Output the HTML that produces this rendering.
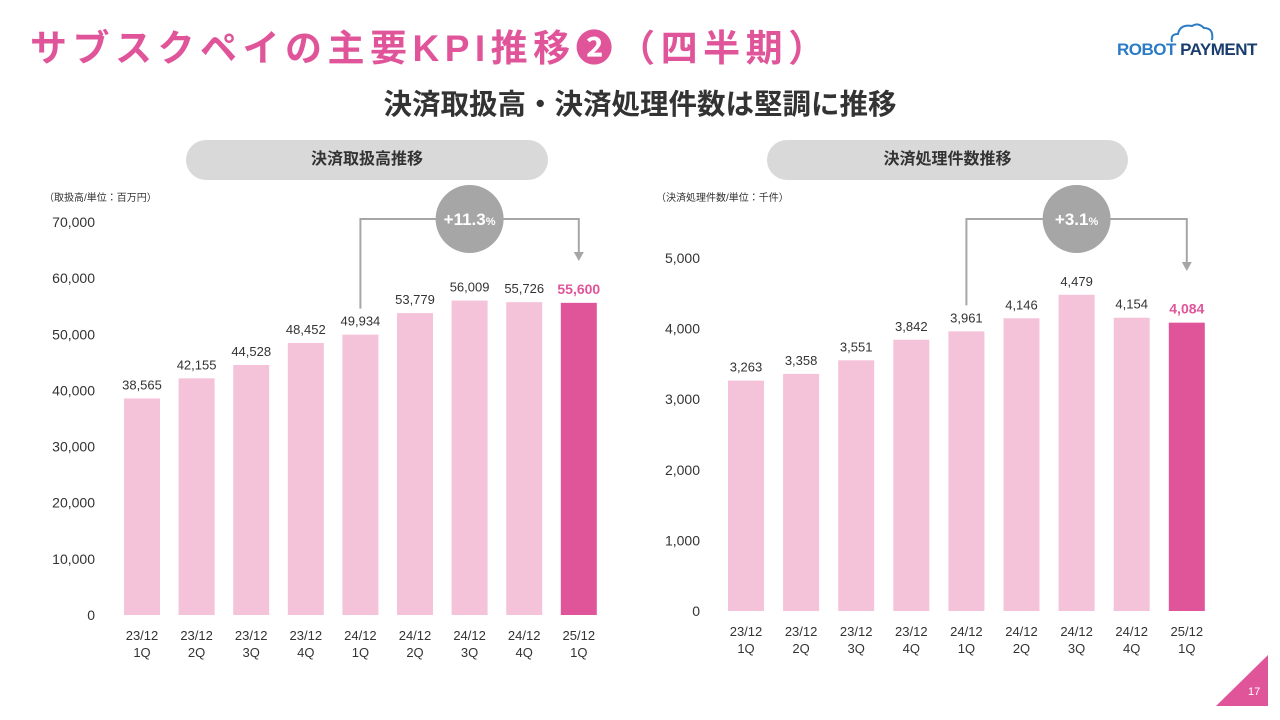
<!DOCTYPE html>
<html><head><meta charset="utf-8"><style>
body{margin:0;width:1280px;height:720px;background:#fff;overflow:hidden;font-family:"Liberation Sans","Noto Sans CJK JP",sans-serif;position:relative}
.t{position:absolute;white-space:nowrap}
</style></head><body>
<div class="t" style="left:30px;top:18px;font-size:37px;font-weight:bold;color:#e0559a;letter-spacing:5.5px">サブスクペイの主要KPI推移❷（四半期）</div>
<div class="t" style="left:1117px;top:40px;font-size:17px;font-weight:bold;color:#1a3d6e;letter-spacing:-0.5px"><span style="color:#2b7cc4">ROBOT</span> PAYMENT</div>
<svg class="t" style="left:1168px;top:22px" width="50" height="22"><path d="M4 20 Q2 12 10 12 Q12 2 24 4 Q30 0 36 6 Q46 6 44 18" fill="none" stroke="#2b7cc4" stroke-width="2"/></svg>
<div class="t" style="left:0;width:1280px;text-align:center;top:82px;font-size:28.5px;font-weight:bold;color:#333">決済取扱高・決済処理件数は堅調に推移</div>
<div class="t" style="left:186px;top:140px;width:362px;height:40px;border-radius:20px;background:#d9d9d9;text-align:center;line-height:40px;font-size:16px;font-weight:bold;color:#333">決済取扱高推移</div>
<div class="t" style="left:767px;top:140px;width:361px;height:40px;border-radius:20px;background:#d9d9d9;text-align:center;line-height:40px;font-size:16px;font-weight:bold;color:#333">決済処理件数推移</div>
<svg id="c" width="1280" height="720" style="position:absolute;left:0;top:0"></svg>
<div class="t" style="left:1248px;top:686px;font-size:11px;color:#fff">17</div>
<script>
const cats=["23/12|1Q","23/12|2Q","23/12|3Q","23/12|4Q","24/12|1Q","24/12|2Q","24/12|3Q","24/12|4Q","25/12|1Q"];
const volume=[38565,42155,44528,48452,49934,53779,56009,55726,55600];
const count=[3263,3358,3551,3842,3961,4146,4479,4154,4084];
const volTicks=[0,10000,20000,30000,40000,50000,60000,70000];
const cntTicks=[0,1000,2000,3000,4000,5000];
const growthVol="+11.3", growthCnt="+3.1";
const S=document.getElementById('c');const NS='http://www.w3.org/2000/svg';
function mk(t,a,txt){const e=document.createElementNS(NS,t);for(const k in a)e.setAttribute(k,a[k]);if(txt!==undefined)e.textContent=txt;S.appendChild(e);return e;}
function chart(o){
 const y=v=>o.y0-(v-0)/o.max*(o.y0-o.yTop);
 const x=i=>o.x0+i*o.step;
 mk('text',{x:o.unitX,y:201,'font-size':10,fill:'#333'},o.unit);
 o.ticks.forEach(t=>{const e=mk('text',{x:o.tickX,y:y(t)+5,'font-size':14,fill:'#333','text-anchor':'end'},t.toLocaleString('en-US'));
  });
 o.vals.forEach((v,i)=>{const last=i===o.vals.length-1;
  const r=mk('rect',{x:x(i)-18,y:y(v),width:36,height:o.y0-y(v),fill:last?'#e0559a':'#f4c3d9'});
  
  const l=mk('text',{x:x(i),y:y(v)-9,'font-size':last?14:13,'font-weight':last?'bold':'normal',fill:last?'#e0559a':'#333','text-anchor':'middle'},v.toLocaleString('en-US'));
  
  const p=cats[i].split('|');
  const a=mk('text',{x:x(i),y:o.y0+25,'font-size':13,fill:'#333','text-anchor':'middle'},p[0]);
  const b=mk('text',{x:x(i),y:o.y0+42,'font-size':13,fill:'#333','text-anchor':'middle'},p[1]);
 });
 const xa=x(4),xb=x(8),yl=219;
 const br=mk('path',{d:`M${xa} ${y(o.vals[4])-26} V${yl} H${xb} V${o.arrowY}`,fill:'none',stroke:'#a6a6a6','stroke-width':2});
 
 mk('path',{d:`M${xb-5} ${o.arrowY} L${xb+5} ${o.arrowY} L${xb} ${o.arrowY+9}Z`,fill:'#a6a6a6'});
 const cx=(xa+xb)/2;
 const c=mk('circle',{cx:cx,cy:yl,r:34,fill:'#a6a6a6'});
 const t=mk('text',{x:cx,y:yl+6,'font-size':17,'font-weight':'bold',fill:'#fff','text-anchor':'middle'});
 t.innerHTML=o.growth+'<tspan font-size="11">%</tspan>';
}
chart({id:'volume',vals:volume,ticks:volTicks,max:70000,y0:615,yTop:222,x0:142,step:54.6,tickX:95,unitX:44,unit:'（取扱高/単位：百万円）',growth:growthVol,arrowY:252});
chart({id:'count',vals:count,ticks:cntTicks,max:5000,y0:611,yTop:258,x0:746,step:55.1,tickX:700,unitX:656,unit:'（決済処理件数/単位：千件）',growth:growthCnt,arrowY:262});
mk('path',{d:'M1216 706 L1268 706 L1268 655Z',fill:'#e0559a'});
</script>
</body></html>
